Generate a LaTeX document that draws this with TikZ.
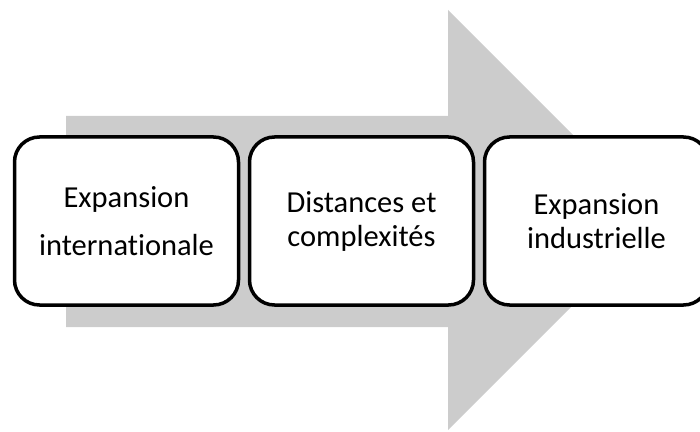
\documentclass[tikz,border=0pt]{standalone}
\usepackage{fontspec}
\setmainfont[Ligatures = NoCommon]{Carlito}
\usetikzlibrary{calc}
\definecolor{arrowgray}{RGB}{204,204,204}

\begin{document}
\begin{tikzpicture}[x = 1pt, y = 1pt, % Process arrow tikzpic
        stage/.style = {draw, line width = 3.5pt, rounded corners = 25pt, fill = white,
            minimum width = 224pt, minimum height = 168pt, align = center,
            font = \fontsize{30.5}{34}\selectfont}]
        \useasboundingbox (0, 0) rectangle (700, 431);
        \coordinate (O) at (0, 0);

        % Big arrow
        \fill[arrowgray] (66, 104) -- (448, 104) -- (448, 1) -- (658, 211)
            -- (448, 421) -- (448, 315) -- (66, 315) -- cycle;

        % Stages
        \node[stage] (expint) at (126.5, 210) {Expansion\\[14pt]internationale};
        \node[stage] (distcomp) at (361.5, 210) {Distances et\\complexités};
        \node[stage] (expind) at (596.5, 210) {Expansion\\industrielle};
    \end{tikzpicture}
\end{document}
